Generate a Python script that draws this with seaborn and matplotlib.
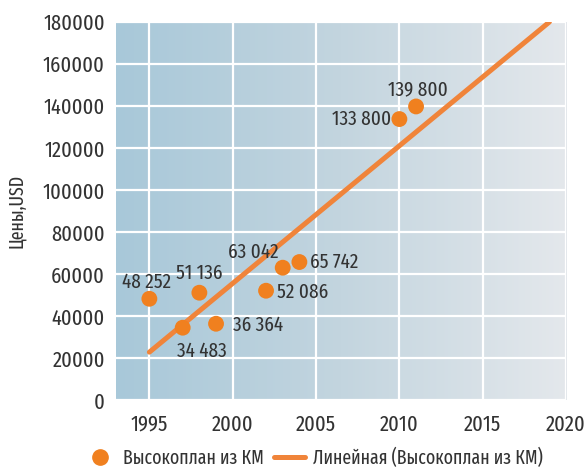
import numpy as np
import pandas as pd
import matplotlib
matplotlib.use("Agg")
import matplotlib.pyplot as plt
from matplotlib.colors import LinearSegmentedColormap
from matplotlib.lines import Line2D
import seaborn as sns

# Prices of high-wing aircraft built from composite materials
years = [1995, 1997, 1998, 1999, 2002, 2003, 2004, 2010, 2011]
prices = [48252, 34483, 51136, 36364, 52086, 63042, 65742, 133800, 139800]
price_labels = ["48 252", "34 483", "51 136", "36 364", "52 086",
                "63 042", "65 742", "133 800", "139 800"]
trend_years = [1995, 2019]
x_ticks = [1995, 2000, 2005, 2010, 2015, 2020]
y_ticks = list(range(0, 180001, 20000))

series_name = "Высокоплан из КМ"
trend_name = "Линейная (Высокоплан из КМ)"

df = pd.DataFrame({"year": years, "price": prices, "label": price_labels})

# least-squares linear trend
slope, intercept = np.polyfit(years, prices, 1)
trend = pd.DataFrame({"year": trend_years})
trend["price"] = slope * trend["year"] + intercept

sns.set_theme(style="white")
plt.rcParams["font.family"] = ["Fira Sans Extra Condensed", "DejaVu Sans"]

orange = "#f0801f"
line_col = "#f0843a"
text_col = "#333333"

fig = plt.figure(figsize=(5.86, 4.68), dpi=100)
ax = fig.add_axes([0.198, 0.145, 0.768, 0.808])

# horizontal gradient background
cmap = LinearSegmentedColormap.from_list("bg", ["#a8c8d9", "#c3d5df", "#e4e8ec"])
grad = np.linspace(0, 1, 256).reshape(1, -1)
ax.imshow(grad, cmap=cmap, aspect="auto", extent=[0, 1, 0, 1],
          transform=ax.transAxes, zorder=0)

ax.set_xlim(1993, 2020)
ax.set_ylim(0, 180000)
ax.set_xticks(x_ticks)
ax.set_yticks(y_ticks)
ax.grid(True, color="white", linewidth=1.6, zorder=1)
ax.set_axisbelow(False)
for s in ax.spines.values():
    s.set_visible(False)

sns.lineplot(data=trend, x="year", y="price", ax=ax, color=line_col,
             linewidth=3.6, zorder=3, legend=False)
sns.scatterplot(data=df, x="year", y="price", ax=ax, color=orange, s=130,
                edgecolor="none", zorder=4, legend=False)

# value annotations: offsets in points (dx, dy) and alignment
placement = {
    "48 252": (-2, 5, "center", "bottom"),
    "34 483": (14, -10, "center", "top"),
    "51 136": (0, 7, "center", "bottom"),
    "36 364": (12, -1, "left", "center"),
    "52 086": (8, -1, "left", "center"),
    "63 042": (-3, 4, "right", "bottom"),
    "65 742": (8, 0, "left", "center"),
    "133 800": (-6, 0, "right", "center"),
    "139 800": (1, 5, "center", "bottom"),
}
for x, y, lab in zip(years, prices, price_labels):
    dx, dy, ha, va = placement[lab]
    ax.annotate(lab, (x, y), xytext=(dx, dy), textcoords="offset points",
                ha=ha, va=va, fontsize=15, color=text_col, zorder=5)

ax.tick_params(axis="both", length=0, labelsize=16, labelcolor=text_col)
ax.tick_params(axis="y", pad=8)
ax.tick_params(axis="x", pad=10)
ax.set_xlabel("")
ax.set_ylabel("Цены,USD", fontsize=14, color=text_col, labelpad=12)

handles = [
    Line2D([], [], marker="o", linestyle="none", color=orange, markersize=11),
    Line2D([], [], color=line_col, linewidth=3.6),
]
fig.legend(handles, [series_name, trend_name], loc="center left",
           bbox_to_anchor=(0.114, 0.022), ncol=2, frameon=False, fontsize=14,
           handlelength=1.6, columnspacing=0.5, handletextpad=0.4,
           labelcolor=text_col)

fig.savefig("out.png", dpi=100, facecolor="white")
